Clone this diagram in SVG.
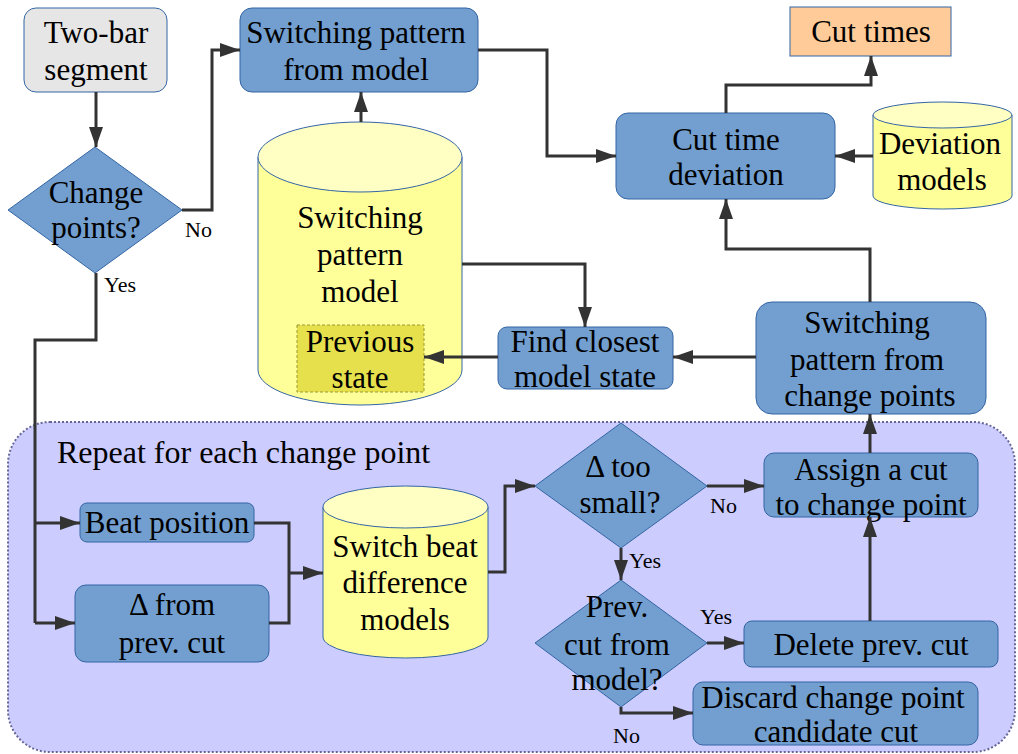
<svg xmlns="http://www.w3.org/2000/svg" width="1018" height="754" viewBox="0 0 1018 754">
<defs>
<marker id="ah" viewBox="0 0 20 14" refX="20" refY="7" markerWidth="20" markerHeight="14" markerUnits="userSpaceOnUse" orient="auto">
<path d="M0,0 L20,7 L0,14 z" fill="#333"/>
</marker>
<style>
text{font-family:'Liberation Serif','Times New Roman','DejaVu Serif',serif}
.t{font-size:31px;fill:#000;text-anchor:middle}
.s{font-size:22px;fill:#000}
.box{fill:#729fcf;stroke:#3465a4;stroke-width:1}
.cylb{fill:#ffff99;stroke:#3465a4;stroke-width:1}
.cylt{fill:#ffffc4;stroke:#3465a4;stroke-width:1}
.ln{fill:none;stroke:#333;stroke-width:3}
.arr{fill:none;stroke:#333;stroke-width:3;marker-end:url(#ah)}
</style>
</defs>
<rect width="1018" height="754" fill="#fff"/>

<g id="repeat">
<rect x="8" y="422" width="1007" height="330" rx="42" fill="#ccccff" stroke="#666699" stroke-width="2" stroke-dasharray="2,2"/>
<text x="57" y="463" class="t" style="text-anchor:start;font-size:32px">Repeat for each change point</text>
</g>

<g id="two-bar">
<rect x="24" y="8" width="143" height="84" rx="12" fill="#e6e6e6" stroke="#3465a4" stroke-width="1"/>
<text x="96" y="43" class="t">Two-bar</text>
<text x="96" y="80" class="t">segment</text>
</g>

<g id="change-points">
<polygon points="95,147 182,210 95,273 8,210" class="box"/>
<text x="96" y="203" class="t">Change</text>
<text x="96" y="238" class="t">points?</text>
</g>

<g id="sp-model-box">
<rect x="240" y="8" width="238" height="84" rx="12" class="box"/>
<text x="356" y="43" class="t">Switching pattern</text>
<text x="356" y="80" class="t">from model</text>
</g>

<g id="sp-model-db">
<path d="M258,157 V370 A102,35 0 0 0 462,370 V157" class="cylb"/>
<ellipse cx="360" cy="157" rx="102" ry="35" class="cylt"/>
<text x="360" y="228" class="t">Switching</text>
<text x="360" y="265" class="t">pattern</text>
<text x="360" y="302" class="t">model</text>
</g>

<g id="previous-state">
<rect x="297" y="325" width="127" height="67" fill="#e6e04d" stroke="#999933" stroke-width="1" stroke-dasharray="3,2"/>
<text x="360" y="352" class="t">Previous</text>
<text x="360" y="388" class="t">state</text>
</g>

<g id="find-closest">
<rect x="498" y="327" width="175" height="62" rx="9" class="box"/>
<text x="585" y="352" class="t">Find closest</text>
<text x="585" y="387" class="t">model state</text>
</g>

<g id="cut-time-deviation">
<rect x="616" y="113" width="219" height="86" rx="12" class="box"/>
<text x="726" y="150" class="t">Cut time</text>
<text x="726" y="185" class="t">deviation</text>
</g>

<g id="cut-times">
<rect x="790" y="7" width="161" height="49" fill="#ffcc99" stroke="#3465a4" stroke-width="1"/>
<text x="871" y="42" class="t">Cut times</text>
</g>

<g id="deviation-models">
<path d="M873,115 V196 A69.5,13 0 0 0 1012,196 V115" class="cylb"/>
<ellipse cx="942.5" cy="115" rx="69.5" ry="13" class="cylt"/>
<text x="940" y="154" class="t">Deviation</text>
<text x="942" y="190" class="t">models</text>
</g>

<g id="sp-change-points">
<rect x="756" y="302" width="230" height="112" rx="16" class="box"/>
<text x="867" y="333" class="t">Switching</text>
<text x="867" y="370" class="t">pattern from</text>
<text x="870" y="406" class="t">change points</text>
</g>

<g id="beat-position">
<rect x="80" y="503" width="174" height="39" rx="7" class="box"/>
<text x="167" y="533" class="t">Beat position</text>
</g>

<g id="delta-prev">
<rect x="75" y="585" width="194" height="77" rx="11" class="box"/>
<text x="172" y="615" class="t">Δ from</text>
<text x="172" y="653" class="t">prev. cut</text>
</g>

<g id="switch-beat-db">
<path d="M323,507 V637 A82.5,21 0 0 0 488,637 V507" class="cylb"/>
<ellipse cx="405.5" cy="507" rx="82.5" ry="21" class="cylt"/>
<text x="405" y="557" class="t">Switch beat</text>
<text x="405" y="593" class="t">difference</text>
<text x="405" y="630" class="t">models</text>
</g>

<g id="delta-small">
<polygon points="621,423 707,486 621,548 535,486" class="box"/>
<text x="618" y="477" class="t">Δ too</text>
<text x="620" y="513" class="t">small?</text>
</g>

<g id="assign-cut">
<rect x="764" y="453" width="214" height="64" rx="10" class="box"/>
<text x="871" y="480" class="t">Assign a cut</text>
<text x="871" y="515" class="t">to change point</text>
</g>

<g id="prev-cut-model">
<polygon points="621,580 707,643 621,707 535,643" class="box"/>
<text x="617" y="617" class="t">Prev.</text>
<text x="617" y="655" class="t">cut from</text>
<text x="617" y="690" class="t">model?</text>
</g>

<g id="delete-prev">
<rect x="744" y="621" width="254" height="46" rx="8" class="box"/>
<text x="871" y="655" class="t">Delete prev. cut</text>
</g>

<g id="discard">
<rect x="693" y="682" width="285" height="63" rx="10" class="box"/>
<text x="833" y="708" class="t">Discard change point</text>
<text x="836" y="742" class="t">candidate cut</text>
</g>

<g id="connectors">
<path class="arr" d="M96,92 V147"/>
<path class="arr" d="M182,210 H212 V50 H240"/>
<path class="ln" d="M96,273 V340 H35 V623"/>
<path class="arr" d="M35,523 H80"/>
<path class="arr" d="M35,623 H75"/>
<path class="arr" d="M361,122 V92"/>
<path class="arr" d="M478,50 H547 V156 H616"/>
<path class="arr" d="M726,113 V85 H871 V56"/>
<path class="arr" d="M873,156 H835"/>
<path class="arr" d="M462,264 H585 V327"/>
<path class="arr" d="M498,357 H424"/>
<path class="arr" d="M756,357 H673"/>
<path class="arr" d="M870,302 V249 H726 V199"/>
<path class="arr" d="M870,453 V414"/>
<path class="ln" d="M254,523 H289 V623 H269"/>
<path class="arr" d="M289,573 H323"/>
<path class="arr" d="M488,572 H505 V486 H535"/>
<path class="arr" d="M707,486 H764"/>
<path class="arr" d="M621,548 V580"/>
<path class="arr" d="M707,643 H744"/>
<path class="arr" d="M870,621 V517"/>
<path class="arr" d="M621,707 V713 H693"/>
<text x="185" y="237" class="s">No</text>
<text x="104" y="292" class="s">Yes</text>
<text x="710" y="513" class="s">No</text>
<text x="629" y="568" class="s">Yes</text>
<text x="700" y="624" class="s">Yes</text>
<text x="613" y="743" class="s">No</text>
</g>
</svg>
